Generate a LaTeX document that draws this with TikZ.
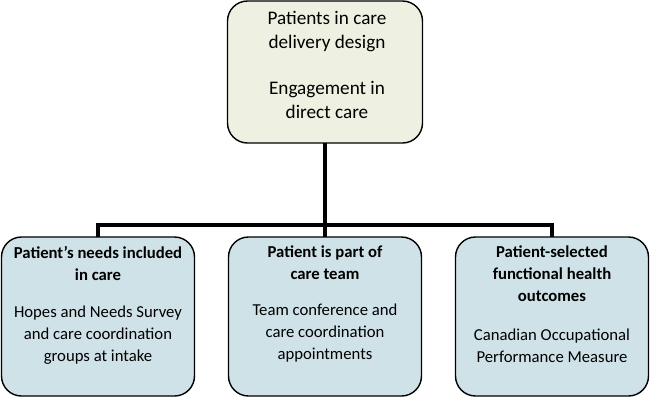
\documentclass[tikz,border=0pt]{standalone}
\usepackage{fontspec}
\setmainfont{Carlito}
\usepackage{tikz}
\usetikzlibrary{positioning}

\definecolor{topfill}{RGB}{238,240,225}
\definecolor{boxfill}{RGB}{207,226,232}

\begin{document}
\begin{tikzpicture}[
        x=1pt, y=-1pt,
        box/.style = {
            draw,
            rectangle,
            rounded corners = 20pt,
            line width = 1.4pt,
            minimum width = #1,
            inner sep = 0pt,
            outer sep = 0pt
        },
        box/.default = 193pt,
        topbox/.style = {box=195pt, fill=topfill, minimum height=142pt},
        lowbox/.style = {box, fill=boxfill, minimum height=159pt},
        boxtext/.style = {
            align=center,
            inner sep = 0pt,
            anchor = north,
            font = \fontsize{16.7}{22}\selectfont
        },
        conn/.style = {line width = 3.5pt},
        node distance = {34pt}
        ]
%
        \useasboundingbox (0,0) rectangle (651,400);
%
        \node[lowbox] (team) at (325,316.5) {};
        \node[lowbox, left=of team] (needs) {};
        \node[lowbox, right=of team] (outcome) {};
        \node[topbox, above=94pt of team] (top) {};
%
        \coordinate (bar) at (0,225);
%
        \draw[conn] (top.south) -- (top.south |- bar);
        \draw[conn] (needs.north) -- (needs.north |- bar) -- (outcome.north |- bar) -- (outcome.north);
        \draw[conn] (team.north) -- (team.north |- bar);
%
        \node[boxtext, font=\fontsize{19.2}{24}\selectfont] (toptext) at ([xshift=2pt, yshift=-10pt]top.north)
            {Patients in care\\delivery design\\[22pt]Engagement in\\direct care};
%
        \node[boxtext] (needstext) at ([yshift=-9pt]needs.north)
            {\textbf{Patient’s needs included}\\\textbf{in care}\\[15pt]Hopes and Needs Survey\\and care coordination\\groups at intake};
        \node[boxtext] (teamtext) at ([yshift=-9pt]team.north)
            {\textbf{Patient is part of}\\\textbf{care team}\\[14pt]Team conference and\\care coordination\\appointments};
        \node[boxtext] (outcometext) at ([yshift=-9pt]outcome.north)
            {\textbf{Patient-selected}\\\textbf{functional health}\\\textbf{outcomes}\\[17pt]Canadian Occupational\\Performance Measure};
%
    \end{tikzpicture}
\end{document}
